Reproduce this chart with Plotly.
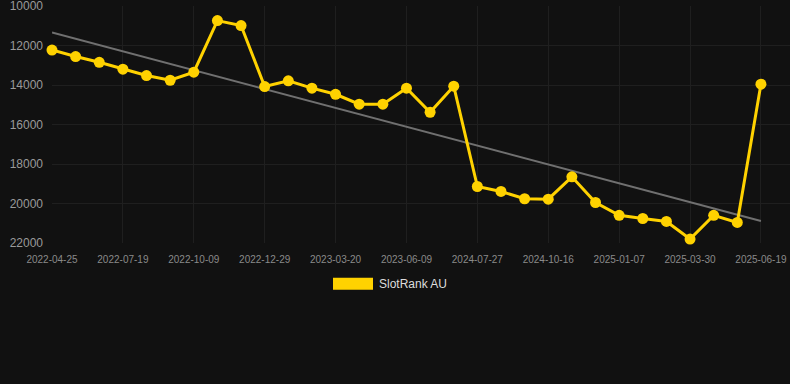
import numpy as np
import plotly.graph_objects as go

dates = [
    "2022-04-25", "2022-05-23", "2022-06-20", "2022-07-19", "2022-08-15", "2022-09-12",
    "2022-10-09", "2022-11-05", "2022-12-02", "2022-12-29", "2023-01-25", "2023-02-21",
    "2023-03-20", "2023-04-16", "2023-05-13", "2023-06-09", "2024-05-31", "2024-06-28",
    "2024-07-27", "2024-08-23", "2024-09-19", "2024-10-16", "2024-11-12", "2024-12-10",
    "2025-01-07", "2025-02-03", "2025-03-02", "2025-03-30", "2025-04-26", "2025-05-23",
    "2025-06-19",
]
ranks = [
    12230, 12560, 12850, 13200, 13520, 13760, 13350, 10740, 10990, 14080,
    13790, 14160, 14470, 14970, 14970, 14160, 15380, 14060, 19140, 19390,
    19760, 19780, 18650, 19950, 20600, 20760, 20910, 21800, 20600, 20960,
    13960,
]
tick_dates = dates[::3]
y_ticks = [10000, 12000, 14000, 16000, 18000, 20000, 22000]
series_name = "SlotRank AU"

idx = np.arange(len(ranks))
slope, intercept = np.polyfit(idx, ranks, 1)
trend = slope * idx + intercept

YELLOW = "#FFD200"
BG = "#111111"
GRID = "#1f1f1f"

fig = go.Figure()
fig.add_trace(go.Scatter(
    x=dates, y=trend, mode="lines",
    line=dict(color="#707070", width=2),
    showlegend=False, hoverinfo="skip",
))
fig.add_trace(go.Scatter(
    x=dates, y=ranks, mode="lines+markers", name=series_name,
    line=dict(color=YELLOW, width=3),
    marker=dict(color=YELLOW, size=11),
    cliponaxis=False, showlegend=False,
))

fig.update_layout(
    width=790, height=384,
    margin=dict(l=52, r=0, t=6, b=141),
    paper_bgcolor=BG, plot_bgcolor=BG,
    font=dict(family="Liberation Sans, Arial, sans-serif"),
    showlegend=False,
    xaxis=dict(
        type="category", categoryorder="array", categoryarray=dates,
        range=[0, 31.23],
        tickvals=tick_dates, ticktext=tick_dates,
        showgrid=True, gridcolor=GRID, gridwidth=1,
        zeroline=False, showline=False,
        tickfont=dict(size=10, color="#8a8a8a"),
        ticks="outside", ticklen=7, tickcolor="rgba(0,0,0,0)",
        ticklabeloverflow="allow",
    ),
    yaxis=dict(
        range=[22000.5, 9999.5],
        tickvals=y_ticks, ticktext=[str(v) for v in y_ticks],
        showgrid=True, gridcolor=GRID, gridwidth=1,
        zeroline=False, showline=False,
        tickfont=dict(size=12, color="#9a9a9a"),
        ticklabelstandoff=8,
        ticklabeloverflow="allow",
    ),
    shapes=[dict(
        type="rect", xref="paper", yref="paper",
        x0=(333 - 52) / 738, x1=(373 - 52) / 738,
        y0=(243.3 - 290) / 237.3, y1=(243.3 - 278) / 237.3,
        fillcolor=YELLOW, line=dict(width=0),
    )],
    annotations=[dict(
        text=series_name, xref="paper", yref="paper",
        x=(377 - 52) / 738, y=(243.3 - 284) / 237.3,
        xanchor="left", yanchor="middle", showarrow=False,
        font=dict(size=12, color="#dddddd"),
    )],
)

fig.write_html("out.html")
